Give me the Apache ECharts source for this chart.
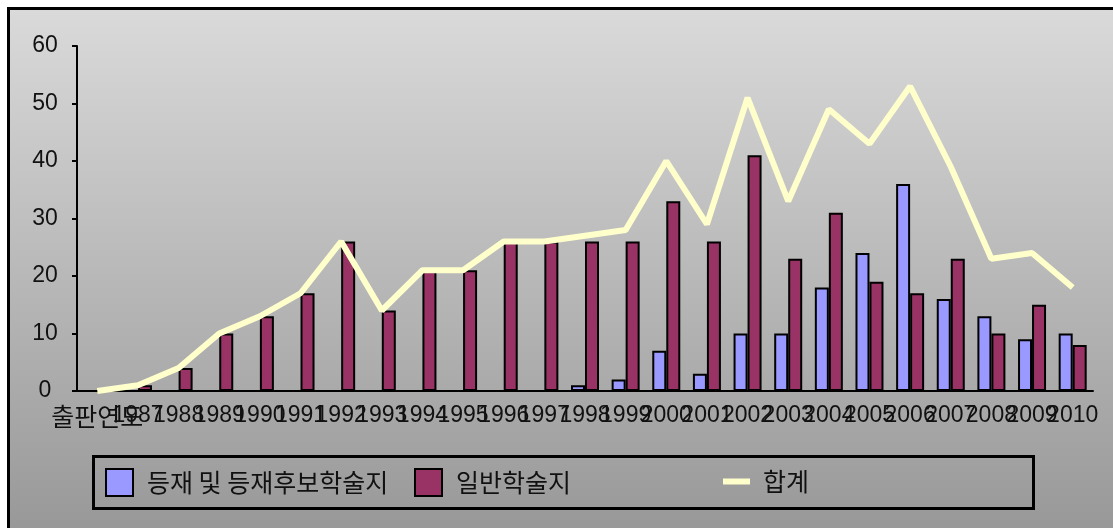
<!DOCTYPE html>
<html>
<head>
<meta charset="utf-8">
<script src="https://cdn.jsdelivr.net/npm/echarts@6/dist/echarts.min.js"></script>
<style>
html,body{margin:0;padding:0;background:#fff;}
#c{width:1113px;height:528px;}
</style>
</head>
<body>
<div id="c"></div>
<script>
const categories = ['출판연도','1987','1988','1989','1990','1991','1992','1993','1994','1995','1996','1997','1998','1999','2000','2001','2002','2003','2004','2005','2006','2007','2008','2009','2010'];
const registered = [null,null,null,null,null,null,null,null,null,null,null,null,1,2,7,3,10,10,18,24,36,16,13,9,10];
const general = [null,1,4,10,13,17,26,14,21,21,26,26,26,26,33,26,41,23,31,19,17,23,10,15,8];
const total = [0,1,4,10,13,17,26,14,21,21,26,26,27,28,40,29,51,33,49,43,53,39,23,24,18];
const yTicks = [0,10,20,30,40,50,60];
const seriesNames = ['등재 및 등재후보학술지','일반학술지','합계'];

const FONT = '"Liberation Sans", "Noto Sans CJK KR", sans-serif';
const KFONT = '"Noto Sans CJK KR", sans-serif';
const KSIZE = 25;
const chart = echarts.init(document.getElementById('c'), null, {renderer:'canvas'});
chart.setOption({
  animation: false,
  textStyle: {fontFamily: FONT},
  graphic: [
    {type:'rect', z:-10, silent:true,
     shape:{x:8.5, y:8.5, width:1130, height:530},
     style:{stroke:'#000', lineWidth:3,
       fill:new echarts.graphic.LinearGradient(0,0,0,1,[{offset:0,color:'#dadada'},{offset:1,color:'#979797'}])}},
    {type:'rect', z:10, silent:true,
     shape:{x:93.5, y:456.5, width:940, height:52},
     style:{stroke:'#000', lineWidth:3, fill:'none'}}
  ],
  grid: {left:77, top:46, right:20, bottom:137, containLabel:false},
  legend: [
    {data:[{name:seriesNames[0], icon:'rect'}], left:105, top:468, padding:0, itemWidth:27, itemHeight:27,
     textStyle:{fontSize:KSIZE, color:'#111', fontFamily:KFONT, padding:[0,0,0,9]}},
    {data:[{name:seriesNames[1], icon:'rect'}], left:414, top:468, padding:0, itemWidth:27, itemHeight:27,
     textStyle:{fontSize:KSIZE, color:'#111', fontFamily:KFONT, padding:[0,0,0,9]}},
    {data:[{name:seriesNames[2], icon:'rect', itemStyle:{borderWidth:0, color:'#ffffcc'}}], left:723, top:469, padding:0, itemWidth:27, itemHeight:6,
     textStyle:{fontSize:KSIZE, color:'#111', fontFamily:KFONT, padding:[0,0,0,8]}}
  ],
  xAxis: {
    type:'category', data:categories, boundaryGap:true,
    axisLine:{show:true, lineStyle:{color:'#000', width:2}},
    axisTick:{show:false},
    axisLabel:{interval:0, fontSize:23, color:'#111', margin:13, fontFamily:FONT, hideOverlap:false,
      formatter: function(v){ return /^\d+$/.test(v) ? v : '{k|' + v + '}'; },
      rich:{k:{fontSize:KSIZE, fontFamily:KFONT, color:'#111'}}},
    splitLine:{show:false}
  },
  yAxis: {
    type:'value', min:yTicks[0], max:yTicks[yTicks.length-1], interval:10,
    axisLine:{show:true, lineStyle:{color:'#000', width:2}},
    axisTick:{show:true, length:5, lineStyle:{color:'#000', width:2}},
    axisLabel:{fontSize:23, color:'#111', margin:32, align:'center', fontFamily:FONT},
    splitLine:{show:false}
  },
  series: [
    {name:seriesNames[0], type:'bar', data:registered, barWidth:14, barGap:'0%',
     itemStyle:{color:'#9999ff', borderColor:'#000', borderWidth:2}},
    {name:seriesNames[1], type:'bar', data:general, barWidth:14, barGap:'0%',
     itemStyle:{color:'#993366', borderColor:'#000', borderWidth:2}},
    {name:seriesNames[2], type:'line', data:total, symbol:'none', z:5,
     lineStyle:{color:'#ffffcc', width:6}, itemStyle:{color:'#ffffcc'}}
  ]
});
</script>
</body>
</html>
